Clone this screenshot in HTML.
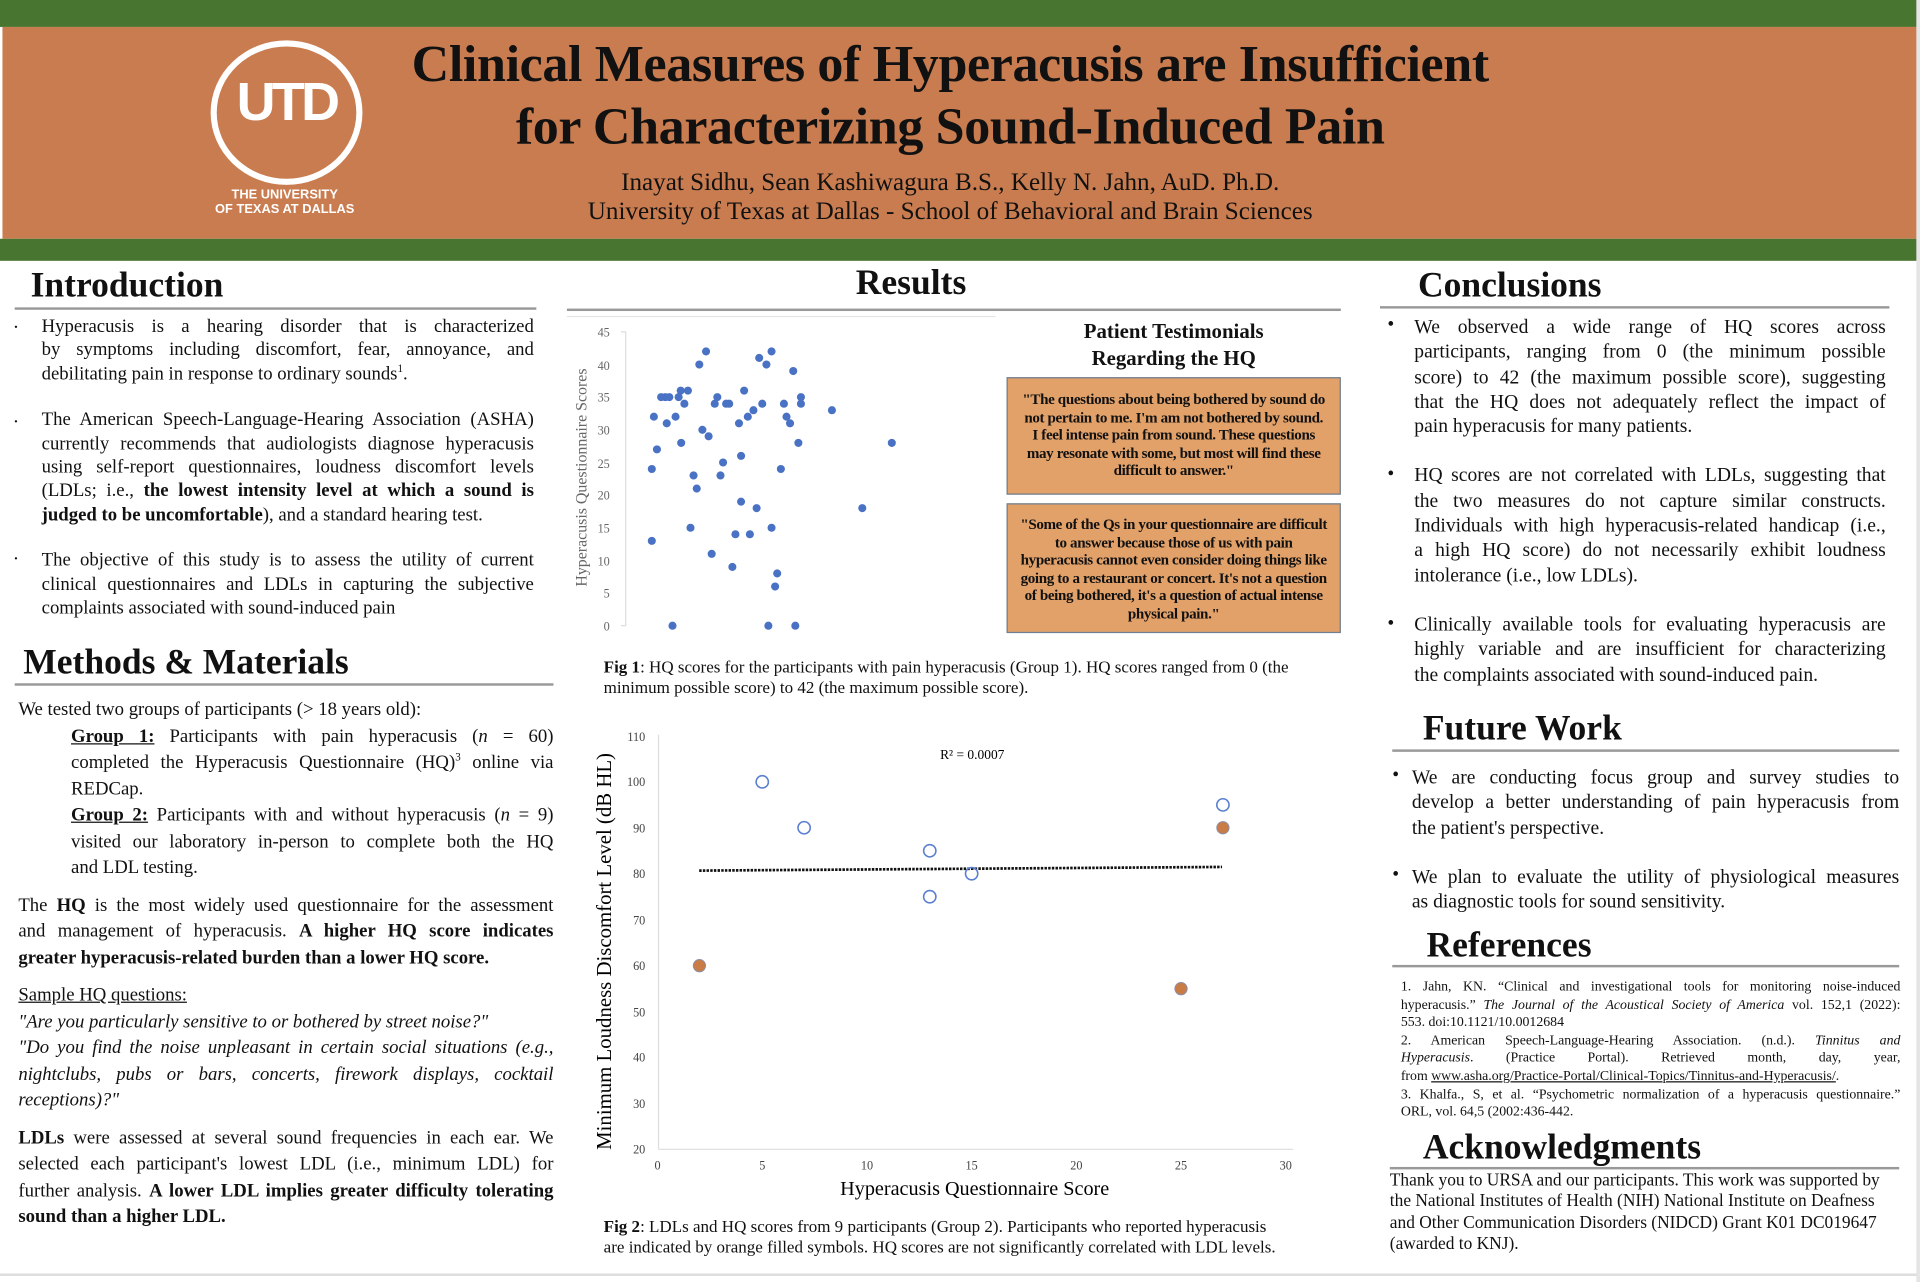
<!DOCTYPE html>
<html><head><meta charset="utf-8">
<style>
html,body{margin:0;padding:0;background:#fff;}
body{width:1920px;height:1282px;overflow:hidden;position:relative;}
#w{position:absolute;left:0;top:0;width:1568px;height:1047px;transform:scale(1.2245);transform-origin:0 0;font-family:"Liberation Serif",serif;color:#111;}
.a{position:absolute;}
.h{position:absolute;font-weight:bold;font-size:29px;line-height:1;}
.ul{position:absolute;height:1.5px;background:#999;}
.bul{position:absolute;font-size:16px;}
p{margin:0;}
.L{text-align:justify;text-align-last:justify;white-space:nowrap;}
.E{white-space:nowrap;}
.box{position:absolute;left:822px;width:273px;box-sizing:border-box;background:#e2a169;border:1.5px solid #6d7f95;text-align:center;font-weight:bold;font-size:12.3px;line-height:14.6px;letter-spacing:-0.3px;white-space:nowrap;}
sup{font-size:9px;line-height:0}
</style></head><body><div id="w">
<div class="a" style="left:0;top:0;width:1568px;height:22px;background:#48752f"></div>
<div class="a" style="left:2px;top:22px;width:1566px;height:173px;background:#c97c4f"></div>
<div class="a" style="left:0;top:195px;width:1568px;height:18px;background:#48752f"></div>
<!-- logo -->
<div class="a" style="left:172px;top:33px;width:114px;height:108px;border:5px solid #fff;border-radius:50%;"></div>
<div class="a" style="left:172px;top:62px;width:124px;text-align:center;color:#fff;font-family:'Liberation Sans',sans-serif;font-weight:bold;font-size:44px;letter-spacing:-3px;line-height:1">UTD</div>
<div class="a" style="left:150px;top:153px;width:165px;text-align:center;color:#fff;font-family:'Liberation Sans',sans-serif;font-weight:bold;font-size:10.5px;line-height:12px">THE UNIVERSITY<br>OF TEXAS AT DALLAS</div>
<div class="a" style="left:276px;top:27px;width:1000px;text-align:center;font-weight:bold;font-size:42.5px;line-height:51px;letter-spacing:-0.3px">Clinical Measures of Hyperacusis are Insufficient<br>for Characterizing Sound-Induced Pain</div>
<div class="a" style="left:380px;top:137px;width:792px;text-align:center;font-size:20.5px;line-height:24px">Inayat Sidhu, Sean Kashiwagura B.S., Kelly N. Jahn, AuD. Ph.D.<br>University of Texas at Dallas - School of Behavioral and Brain Sciences</div>

<!-- Introduction -->
<div class="h" style="left:25px;top:219px">Introduction</div>
<div class="ul" style="left:12px;top:251px;width:426px"></div>
<div class="bul" style="left:11px;top:255px">.</div><div class="bul" style="left:11px;top:332px">.</div><div class="bul" style="left:11px;top:444px">.</div>
<div class="a" style="left:34px;top:257px;width:402px;font-size:15.3px;line-height:19.4px">
<div class="L">Hyperacusis is a hearing disorder that is characterized</div>
<div class="L">by symptoms including discomfort, fear, annoyance, and</div>
<div class="E">debilitating pain in response to ordinary sounds<sup>1</sup>.</div>
<div style="height:18px"></div>
<div class="L">The American Speech-Language-Hearing Association (ASHA)</div>
<div class="L">currently recommends that audiologists diagnose hyperacusis</div>
<div class="L">using self-report questionnaires, loudness discomfort levels</div>
<div class="L">(LDLs; i.e., <b>the lowest intensity level at which a sound is</b></div>
<div class="E"><b>judged to be uncomfortable</b>), and a standard hearing test.</div>
<div style="height:18px"></div>
<div class="L">The objective of this study is to assess the utility of current</div>
<div class="L">clinical questionnaires and LDLs in capturing the subjective</div>
<div class="E">complaints associated with sound-induced pain</div>
</div>

<!-- Methods -->
<div class="h" style="left:19px;top:527px">Methods &amp; Materials</div>
<div class="ul" style="left:12px;top:558px;width:440px"></div>
<div class="a" style="left:15px;top:569px;width:437px;font-size:15.3px;line-height:21.5px">
<div class="E">We tested two groups of participants (&gt; 18 years old):</div>
<div style="padding-left:43px">
<div class="L"><b><u>Group 1:</u></b> Participants with pain hyperacusis (<i>n</i> = 60)</div>
<div class="L">completed the Hyperacusis Questionnaire (HQ)<sup>3</sup> online via</div>
<div class="E">REDCap.</div>
<div class="L"><b><u>Group 2:</u></b> Participants with and without hyperacusis (<i>n</i> = 9)</div>
<div class="L">visited our laboratory in-person to complete both the HQ</div>
<div class="E">and LDL testing.</div>
</div>
<div style="height:9px"></div>
<div class="L">The <b>HQ</b> is the most widely used questionnaire for the assessment</div>
<div class="L">and management of hyperacusis. <b>A higher HQ score indicates</b></div>
<div class="E"><b>greater hyperacusis-related burden than a lower HQ score.</b></div>
<div style="height:9px"></div>
<div class="E"><u>Sample HQ questions:</u></div>
<div class="E"><i>"Are you particularly sensitive to or bothered by street noise?"</i></div>
<div class="L"><i>"Do you find the noise unpleasant in certain social situations (e.g.,</i></div>
<div class="L"><i>nightclubs, pubs or bars, concerts, firework displays, cocktail</i></div>
<div class="E"><i>receptions)?"</i></div>
<div style="height:9px"></div>
<div class="L"><b>LDLs</b> were assessed at several sound frequencies in each ear. We</div>
<div class="L">selected each participant's lowest LDL (i.e., minimum LDL) for</div>
<div class="L">further analysis. <b>A lower LDL implies greater difficulty tolerating</b></div>
<div class="E"><b>sound than a higher LDL.</b></div>
</div>

<!-- Results -->
<div class="h" style="left:600px;top:217px;width:288px;text-align:center">Results</div>
<div class="ul" style="left:463px;top:252px;width:632px"></div>
<div class="ul" style="left:463px;top:258px;width:350px;background:#e4e4e4;height:1px"></div>

<svg class="a" style="left:0;top:0" width="1568" height="1047" font-family="Liberation Serif, serif">
<g font-size="10" fill="#666" text-anchor="end">
<text x="498" y="515">0</text><text x="498" y="488">5</text><text x="498" y="462">10</text><text x="498" y="435">15</text><text x="498" y="408">20</text><text x="498" y="382">25</text><text x="498" y="355">30</text><text x="498" y="328">35</text><text x="498" y="302">40</text><text x="498" y="275">45</text>
</g>
<line x1="511" y1="271" x2="511" y2="511" stroke="#ddd"/>
<g stroke="#ddd"><line x1="507" y1="511" x2="511" y2="511"/><line x1="507" y1="271" x2="511" y2="271"/></g>
<text transform="translate(479,390) rotate(-90)" text-anchor="middle" font-size="13" fill="#666">Hyperacusis Questionnaire Scores</text>
<g fill="#4a72c4">
<circle cx="532.3" cy="383" r="3.3"/><circle cx="532.3" cy="441.7" r="3.3"/><circle cx="534" cy="340.3" r="3.3"/><circle cx="536.5" cy="367" r="3.3"/><circle cx="539.9" cy="324.3" r="3.3"/><circle cx="543.3" cy="324.3" r="3.3"/><circle cx="544.5" cy="345.7" r="3.3"/><circle cx="546.6" cy="324.3" r="3.3"/><circle cx="549.2" cy="511" r="3.3"/><circle cx="551.7" cy="340.3" r="3.3"/><circle cx="554.2" cy="324.3" r="3.3"/><circle cx="555.9" cy="319" r="3.3"/><circle cx="556.3" cy="361.7" r="3.3"/><circle cx="558.9" cy="329.7" r="3.3"/><circle cx="561.8" cy="319" r="3.3"/><circle cx="563.9" cy="431" r="3.3"/><circle cx="566.4" cy="388.3" r="3.3"/><circle cx="569" cy="399" r="3.3"/><circle cx="571.1" cy="297.7" r="3.3"/><circle cx="573.6" cy="351" r="3.3"/><circle cx="576.6" cy="287" r="3.3"/><circle cx="578.7" cy="356.3" r="3.3"/><circle cx="581.2" cy="452.3" r="3.3"/><circle cx="583.7" cy="329.7" r="3.3"/><circle cx="585.8" cy="324.3" r="3.3"/><circle cx="588.4" cy="388.3" r="3.3"/><circle cx="590.5" cy="377.7" r="3.3"/><circle cx="593" cy="329.7" r="3.3"/><circle cx="595.5" cy="329.7" r="3.3"/><circle cx="598.1" cy="463" r="3.3"/><circle cx="600.6" cy="436.3" r="3.3"/><circle cx="603.5" cy="345.7" r="3.3"/><circle cx="605.2" cy="372.3" r="3.3"/><circle cx="605.2" cy="409.7" r="3.3"/><circle cx="607.7" cy="319" r="3.3"/><circle cx="610.7" cy="340.3" r="3.3"/><circle cx="612.4" cy="436.3" r="3.3"/><circle cx="615.3" cy="335" r="3.3"/><circle cx="617.9" cy="415" r="3.3"/><circle cx="620" cy="292.3" r="3.3"/><circle cx="622.5" cy="329.7" r="3.3"/><circle cx="625.9" cy="297.7" r="3.3"/><circle cx="627.5" cy="511" r="3.3"/><circle cx="630.1" cy="287" r="3.3"/><circle cx="630.1" cy="431" r="3.3"/><circle cx="633" cy="479" r="3.3"/><circle cx="634.7" cy="468.3" r="3.3"/><circle cx="637.7" cy="383" r="3.3"/><circle cx="640.2" cy="329.7" r="3.3"/><circle cx="642.3" cy="340.3" r="3.3"/><circle cx="645.2" cy="345.7" r="3.3"/><circle cx="647.8" cy="303" r="3.3"/><circle cx="649.5" cy="511" r="3.3"/><circle cx="652" cy="361.7" r="3.3"/><circle cx="654.1" cy="324.3" r="3.3"/><circle cx="654.1" cy="329.7" r="3.3"/><circle cx="679.4" cy="335" r="3.3"/><circle cx="704.2" cy="415" r="3.3"/><circle cx="728.3" cy="361.7" r="3.3"/>
</g>

<!-- chart 2 -->
<line x1="537.8" y1="600" x2="537.8" y2="938.6" stroke="#ddd"/>
<line x1="537.8" y1="938.6" x2="1056" y2="938.6" stroke="#ddd"/>
<g font-size="10" fill="#444" text-anchor="end">
<text x="527" y="942">20</text><text x="527" y="905">30</text><text x="527" y="867">40</text><text x="527" y="830">50</text><text x="527" y="792">60</text><text x="527" y="755">70</text><text x="527" y="717">80</text><text x="527" y="680">90</text><text x="527" y="642">100</text><text x="527" y="605">110</text>
</g>
<g font-size="10" fill="#444" text-anchor="middle">
<text x="537" y="955">0</text><text x="622.5" y="955">5</text><text x="708" y="955">10</text><text x="793.5" y="955">15</text><text x="879" y="955">20</text><text x="964.5" y="955">25</text><text x="1050" y="955">30</text>
</g>
<text transform="translate(499,777) rotate(-90)" text-anchor="middle" font-size="17">Minimum Loudness Discomfort Level (dB HL)</text>
<text x="796" y="976" text-anchor="middle" font-size="16.5">Hyperacusis Questionnaire Score</text>
<text x="794" y="620" text-anchor="middle" font-size="11">R² = 0.0007</text>
<line x1="571" y1="711" x2="998" y2="708" stroke="#111" stroke-width="2.2" stroke-dasharray="2,1"/>
<g fill="none" stroke="#5b7fd0" stroke-width="1.3">
<circle cx="622.5" cy="638.5" r="5"/><circle cx="656.7" cy="676" r="5"/><circle cx="759.3" cy="694.8" r="5"/><circle cx="759.3" cy="732.3" r="5"/><circle cx="793.5" cy="713.5" r="5"/><circle cx="998.7" cy="657.3" r="5"/>
</g>
<g fill="#c97c45" stroke="#8a8fa8" stroke-width="0.8">
<circle cx="571.2" cy="788.6" r="5"/><circle cx="998.7" cy="676" r="5"/><circle cx="964.5" cy="807.4" r="5"/>
</g>
</svg>

<div class="a" style="left:822px;top:260px;width:273px;text-align:center;font-weight:bold;font-size:17px;line-height:22px">Patient Testimonials<br>Regarding the HQ</div>
<div class="box" style="top:308px;height:96px;padding-top:10px">"The questions about being bothered by sound do<br>not pertain to me. I'm am not bothered by sound.<br>I feel intense pain from sound. These questions<br>may resonate with some, but most will find these<br>difficult to answer."</div>
<div class="box" style="top:411px;height:106px;padding-top:9px">"Some of the Qs in your questionnaire are difficult<br>to answer because those of us with pain<br>hyperacusis cannot even consider doing things like<br>going to a restaurant or concert. It's not a question<br>of being bothered, it's a question of actual intense<br>physical pain."</div>

<div class="a" style="left:493px;top:537px;width:620px;font-size:13.9px;line-height:17px;white-space:nowrap"><b>Fig 1</b>: HQ scores for the participants with pain hyperacusis (Group 1). HQ scores ranged from 0 (the<br>minimum possible score) to 42 (the maximum possible score).</div>
<div class="a" style="left:493px;top:994px;width:620px;font-size:13.9px;line-height:17px;white-space:nowrap"><b>Fig 2</b>: LDLs and HQ scores from 9 participants (Group 2). Participants who reported hyperacusis<br>are indicated by orange filled symbols. HQ scores are not significantly correlated with LDL levels.</div>

<!-- Conclusions -->
<div class="h" style="left:1158px;top:219px">Conclusions</div>
<div class="ul" style="left:1127px;top:250px;width:416px"></div>
<div class="bul" style="left:1133px;top:257px">•</div><div class="bul" style="left:1133px;top:379px">•</div><div class="bul" style="left:1133px;top:501px">•</div>
<div class="a" style="left:1155px;top:258px;width:385px;font-size:16px;line-height:20.3px">
<div class="L">We observed a wide range of HQ scores across</div>
<div class="L">participants, ranging from 0 (the minimum possible</div>
<div class="L">score) to 42 (the maximum possible score), suggesting</div>
<div class="L">that the HQ does not adequately reflect the impact of</div>
<div class="E">pain hyperacusis for many patients.</div>
<div style="height:20px"></div>
<div class="L">HQ scores are not correlated with LDLs, suggesting that</div>
<div class="L">the two measures do not capture similar constructs.</div>
<div class="L">Individuals with high hyperacusis-related handicap (i.e.,</div>
<div class="L">a high HQ score) do not necessarily exhibit loudness</div>
<div class="E">intolerance (i.e., low LDLs).</div>
<div style="height:20px"></div>
<div class="L">Clinically available tools for evaluating hyperacusis are</div>
<div class="L">highly variable and are insufficient for characterizing</div>
<div class="E">the complaints associated with sound-induced pain.</div>
</div>

<div class="h" style="left:1162px;top:581px">Future Work</div>
<div class="ul" style="left:1137px;top:612px;width:414px"></div>
<div class="bul" style="left:1137px;top:625px">•</div><div class="bul" style="left:1137px;top:706px">•</div>
<div class="a" style="left:1153px;top:626px;width:398px;font-size:16px;line-height:20.3px">
<div class="L">We are conducting focus group and survey studies to</div>
<div class="L">develop a better understanding of pain hyperacusis from</div>
<div class="E">the patient's perspective.</div>
<div style="height:20px"></div>
<div class="L">We plan to evaluate the utility of physiological measures</div>
<div class="E">as diagnostic tools for sound sensitivity.</div>
</div>

<div class="h" style="left:1165px;top:758px">References</div>
<div class="ul" style="left:1137px;top:788px;width:414px"></div>
<div class="a" style="left:1144px;top:799px;width:408px;font-size:11.3px;line-height:14.6px">
<div class="L">1. Jahn, KN. “Clinical and investigational tools for monitoring noise-induced</div>
<div class="L">hyperacusis.” <i>The Journal of the Acoustical Society of America</i> vol. 152,1 (2022):</div>
<div class="E">553. doi:10.1121/10.0012684</div>
<div class="L">2. American Speech-Language-Hearing Association. (n.d.). <i>Tinnitus and</i></div>
<div class="L"><i>Hyperacusis</i>. (Practice Portal). Retrieved month, day, year,</div>
<div class="E">from <u>www.asha.org/Practice-Portal/Clinical-Topics/Tinnitus-and-Hyperacusis/</u>.</div>
<div class="L">3. Khalfa., S, et al. “Psychometric normalization of a hyperacusis questionnaire.”</div>
<div class="E">ORL, vol. 64,5 (2002:436-442.</div>
</div>

<div class="h" style="left:1162px;top:923px">Acknowledgments</div>
<div class="ul" style="left:1135px;top:953px;width:416px"></div>
<div class="a" style="left:1135px;top:956px;width:415px;font-size:14.2px;line-height:17.4px">Thank you to URSA and our participants. This work was supported by the National Institutes of Health (NIH) National Institute on Deafness and Other Communication Disorders (NIDCD) Grant K01 DC019647 (awarded to KNJ).</div>

<div class="a" style="left:0;top:1040px;width:1568px;height:2px;background:#ddd"></div>
<div class="a" style="left:1565px;top:0;width:3px;height:1047px;background:#e5e5e5"></div>
</div></body></html>
